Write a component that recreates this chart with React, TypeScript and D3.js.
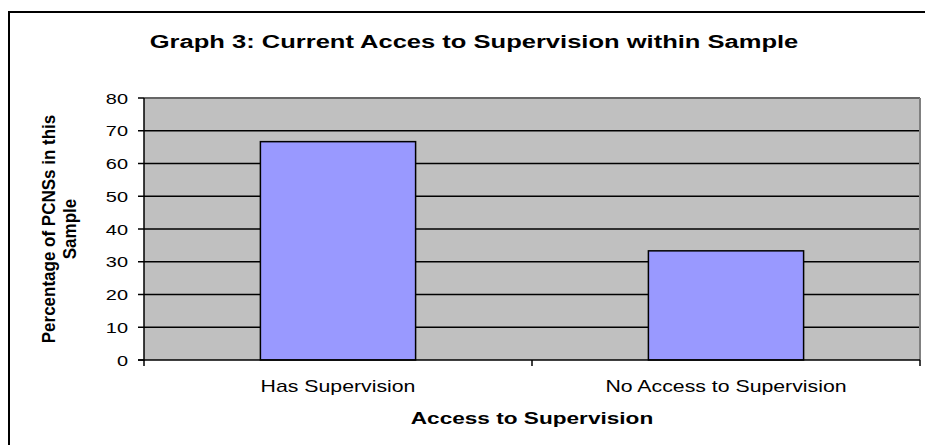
import React from "react";
import * as d3 from "d3";

const categories = ["Has Supervision", "No Access to Supervision"];
const values = [66.67, 33.33];
const yTicks = [0, 10, 20, 30, 40, 50, 60, 70, 80];
const title = "Graph 3: Current Acces to Supervision within Sample";
const xTitle = "Access to Supervision";
const yTitleLines = ["Percentage of PCNSs in this", "Sample"];

const W = 925;
const H = 445;
const plot = { left: 144, right: 920, top: 98, bottom: 360 };
const SX = 1.33; // horizontal glyph stretch for horizontal labels
const SX_ROT = 1.1; // thickness stretch for the rotated axis title
const FONT = "'Liberation Sans', Arial, sans-serif";

export default function App() {
  const x = d3
    .scaleBand<string>()
    .domain(categories)
    .range([plot.left, plot.right])
    .paddingInner(0.6)
    .paddingOuter(0.3);
  const xOuter = d3.scaleBand<string>().domain(categories).range([plot.left, plot.right]);
  const y = d3.scaleLinear().domain([0, 80]).range([plot.bottom, plot.top]);

  const txt = (
    tx: number,
    ty: number,
    s: string,
    opts: { size: number; bold?: boolean; anchor?: string; rotate?: boolean }
  ) => (
    <text
      transform={`translate(${tx},${ty}) scale(${opts.rotate ? SX_ROT : SX},1)${opts.rotate ? " rotate(-90)" : ""}`}
      fontFamily={FONT}
      fontSize={opts.size}
      fontWeight={opts.bold ? "bold" : "normal"}
      textAnchor={opts.anchor ?? "middle"}
      fill="#000"
    >
      {s}
    </text>
  );

  const xTickPos = [plot.left, (plot.left + plot.right) / 2, plot.right];
  const midY = (plot.top + plot.bottom) / 2;

  return (
    <svg width={W} height={H} style={{ position: "absolute", left: 0, top: 0, background: "#fff" }}>
      <rect x={9} y={12} width={W + 20} height={H + 20} fill="#fff" stroke="#000" strokeWidth={2} />
      {txt(474, 48, title, { size: 19.2, bold: true })}

      {/* plot area */}
      <rect
        x={plot.left}
        y={plot.top}
        width={plot.right - plot.left}
        height={plot.bottom - plot.top}
        fill="#C0C0C0"
      />
      {yTicks
        .filter((t) => t > 0 && t < 80)
        .map((t) => (
          <line key={t} x1={plot.left} x2={plot.right} y1={y(t)} y2={y(t)} stroke="#000" strokeWidth={1.5} />
        ))}
      <line x1={plot.left} x2={plot.right} y1={y(80)} y2={y(80)} stroke="#666" strokeWidth={2} />
      <line x1={plot.right} x2={plot.right} y1={y(80)} y2={plot.bottom} stroke="#808080" strokeWidth={2} />

      {categories.map((c, i) => (
        <rect
          key={c}
          x={x(c)}
          y={y(values[i])}
          width={x.bandwidth()}
          height={plot.bottom - y(values[i])}
          fill="#9999FF"
          stroke="#000"
          strokeWidth={1.5}
        />
      ))}

      {/* axes */}
      <line x1={plot.left} x2={plot.left} y1={plot.top} y2={plot.bottom + 1} stroke="#000" strokeWidth={1.5} />
      <line x1={plot.left - 6} x2={plot.right} y1={plot.bottom} y2={plot.bottom} stroke="#000" strokeWidth={1.5} />
      {yTicks.map((t) => (
        <g key={t}>
          <line x1={plot.left - 6} x2={plot.left} y1={y(t)} y2={y(t)} stroke="#000" strokeWidth={1.5} />
          {txt(128, y(t) + 5.5, String(t), { size: 15, anchor: "end" })}
        </g>
      ))}
      {xTickPos.map((p, i) => (
        <line key={i} x1={p} x2={p} y1={plot.bottom} y2={plot.bottom + 6} stroke="#000" strokeWidth={1.5} />
      ))}
      {categories.map((c) =>
        <g key={c}>{txt((xOuter(c) ?? 0) + xOuter.bandwidth() / 2, 392, c, { size: 16 })}</g>
      )}
      {txt((plot.left + plot.right) / 2, 424, xTitle, { size: 17, bold: true })}
      {txt(55, midY, yTitleLines[0], { size: 17, bold: true, rotate: true })}
      {txt(76, midY, yTitleLines[1], { size: 17, bold: true, rotate: true })}
    </svg>
  );
}
